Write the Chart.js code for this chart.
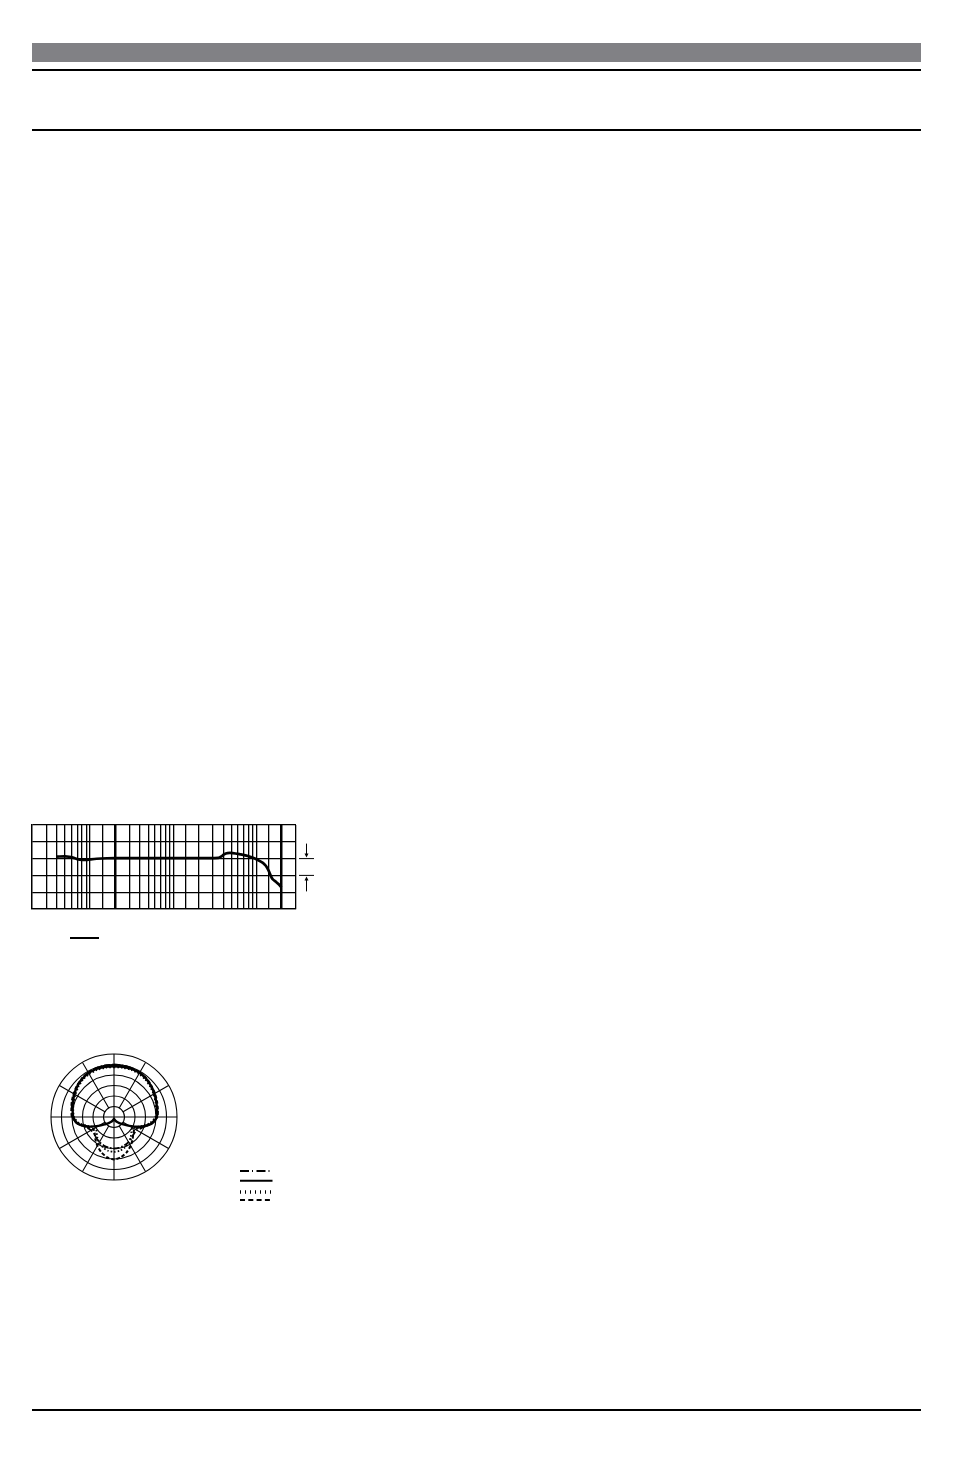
<!DOCTYPE html>
<html>
<head>
<meta charset="utf-8">
<script src="https://cdn.jsdelivr.net/npm/chart.js@4/dist/chart.umd.min.js"></script>
<style>
  body { margin: 0; background: #fff; }
  #page { position: relative; width: 954px; height: 1474px; overflow: hidden; }
  .bar { position: absolute; left: 32px; top: 43px; width: 889px; height: 19px; background: #818185; }
  .rule { position: absolute; left: 32px; width: 889px; background: #000; }
  #freqBox { position: absolute; left: 20px; top: 815px; width: 300px; height: 130px; }
  #polarBox { position: absolute; left: 0px; top: 1045px; width: 290px; height: 170px; }
</style>
</head>
<body>
<div id="page">
  <div class="bar"></div>
  <div class="rule" style="top:69px;height:1.5px"></div>
  <div class="rule" style="top:129px;height:1.5px"></div>
  <div class="rule" style="top:1409px;height:2px"></div>
  <div id="freqBox"><canvas id="freqChart"></canvas></div>
  <div id="polarBox"><canvas id="polarChart"></canvas></div>
</div>
<script>
// frequency response (Hz / dB)
var freq_hz = [20, 25, 28, 31, 35, 40, 45, 50, 60, 80, 100, 200, 500, 1000, 1750, 1900, 2050, 2250, 2600, 3250, 3800, 4300, 5200, 6000, 6500, 7000, 7500, 7850, 8600, 9300, 10000];
var freq_db = [1.2, 1.3, 1.1, 0.6, -0.3, -0.8, -0.8, -0.5, -0.1, 0.2, 0.3, 0.3, 0.3, 0.3, 0.4, 1.3, 2.6, 3.3, 3.3, 2.5, 1.8, 0.9, -0.8, -2.5, -4.3, -7.0, -10.5, -12.2, -13.8, -15.3, -17.2];
var freq_ticks = [10, 15, 20, 25, 30, 35, 40, 45, 50, 70, 100, 150, 200, 250, 300, 350, 400, 450, 500, 700, 1000, 1500, 2000, 2500, 3000, 3500, 4000, 4500, 5000, 7000, 10000, 15000];
var freq_bold = [100, 10000];

// polar pattern, every 10 degrees from the front, clockwise (dB)
var polar_angles = ['0', '10', '20', '30', '40', '50', '60', '70', '80', '90', '100', '110', '120', '130', '140', '150', '160', '170',
  '180', '190', '200', '210', '220', '230', '240', '250', '260', '270', '280', '290', '300', '310', '320', '330', '340', '350'];
var polar_dashdot = [-5.0, -5.1, -5.2, -5.5, -6.2, -7.0, -7.9, -8.6, -9.1, -9.8, -12.2, -15.4, -17.4, -17.6, -16.9, -16.2, -15.6, -15.2,
  -15.0, -15.2, -15.6, -16.2, -16.9, -17.6, -17.4, -15.8, -12.4, -10.2, -9.5, -8.9, -8.0, -7.1, -6.2, -5.5, -5.2, -5.1];
var polar_solid = [-5.8, -5.7, -5.6, -5.7, -6.2, -7.0, -7.8, -8.6, -9.2, -9.6, -11.8, -16.5, -21.5, -24.8, -26.4, -27.4, -28.2, -28.8,
  -29.2, -28.8, -28.2, -27.4, -26.4, -24.8, -21.5, -16.8, -12.3, -10.6, -10.0, -9.2, -8.2, -7.2, -6.4, -5.8, -5.6, -5.7];
var polar_dotted = [-6.3, -6.2, -6.1, -6.3, -6.8, -7.5, -8.3, -9.0, -9.7, -10.3, -12.8, -16.8, -19.8, -19.2, -17.6, -16.0, -14.6, -13.7,
  -13.4, -13.7, -14.6, -16.0, -17.6, -19.2, -19.8, -17.2, -13.2, -11.0, -10.3, -9.6, -8.8, -7.8, -6.9, -6.4, -6.2, -6.2];
var polar_dashed = [-5.4, -5.3, -5.3, -5.5, -6.0, -6.8, -7.5, -8.2, -8.8, -9.4, -12.0, -16.0, -18.6, -18.0, -16.2, -14.2, -12.2, -10.6,
  -9.8, -10.6, -12.2, -14.2, -16.2, -18.0, -18.6, -16.3, -12.5, -10.0, -9.4, -8.6, -7.8, -6.9, -6.1, -5.6, -5.4, -5.4];

var freq_points = [];
for (var i = 0; i < freq_hz.length; i++) {
    freq_points.push({x: freq_hz[i], y: freq_db[i]});
}

// 10 dB marker at the right side and the legend stroke under the chart
var freqExtras = {
    id: 'freqExtras',
    afterDraw: function(chart) {
        var ctx = chart.ctx;
        var area = chart.chartArea;
        var y0 = chart.scales.y.getPixelForValue(0);
        var y1 = chart.scales.y.getPixelForValue(-10);
        var ax = area.right + 10.5;
        ctx.save();
        ctx.strokeStyle = '#000';
        ctx.fillStyle = '#000';
        ctx.lineWidth = 1;
        ctx.beginPath();
        ctx.moveTo(area.right + 3, y0); ctx.lineTo(area.right + 18, y0);
        ctx.moveTo(area.right + 3, y1); ctx.lineTo(area.right + 18, y1);
        ctx.moveTo(ax, y0 - 15); ctx.lineTo(ax, y0 - 3);
        ctx.moveTo(ax, y1 + 16); ctx.lineTo(ax, y1 + 3);
        ctx.stroke();
        ctx.beginPath();
        ctx.moveTo(ax - 2, y0 - 5); ctx.lineTo(ax, y0 - 1); ctx.lineTo(ax + 2, y0 - 5);
        ctx.moveTo(ax - 2, y1 + 5); ctx.lineTo(ax, y1 + 1); ctx.lineTo(ax + 2, y1 + 5);
        ctx.fill();
        ctx.lineWidth = 2;
        ctx.beginPath();
        ctx.moveTo(area.left + 38, area.bottom + 29);
        ctx.lineTo(area.left + 67, area.bottom + 29);
        ctx.stroke();
        ctx.restore();
    }
};

new Chart(document.getElementById('freqChart'), {
    type: 'line',
    data: {
        datasets: [{
            data: freq_points,
            borderColor: '#000',
            borderWidth: 2.7,
            pointRadius: 0,
            tension: 0.3,
            fill: false
        }]
    },
    options: {
        responsive: true,
        maintainAspectRatio: false,
        animation: false,
        layout: { padding: { left: 12, right: 24, top: 10, bottom: 36 } },
        plugins: { legend: { display: false }, tooltip: { enabled: false } },
        scales: {
            x: {
                type: 'logarithmic',
                min: 10,
                max: 15000,
                afterBuildTicks: function(scale) {
                    scale.ticks = freq_ticks.map(function(v) { return {value: v}; });
                },
                ticks: { display: false },
                grid: {
                    color: '#000',
                    drawTicks: false,
                    lineWidth: function(c) {
                        return (c.tick && freq_bold.indexOf(c.tick.value) >= 0) ? 2.5 : 1.3;
                    }
                },
                border: { display: true, color: '#000', width: 1.3 }
            },
            y: {
                min: -30,
                max: 20,
                ticks: { display: false, stepSize: 10 },
                grid: { color: '#000', drawTicks: false, lineWidth: 1.3 },
                border: { display: true, color: '#000', width: 1.3 }
            }
        }
    },
    plugins: [freqExtras]
});

// spokes every 30 degrees, only the axes run into the centre
var polarSpokes = {
    id: 'polarSpokes',
    beforeDatasetsDraw: function(chart) {
        var r = chart.scales.r;
        var ctx = chart.ctx;
        ctx.save();
        ctx.strokeStyle = '#000';
        ctx.lineWidth = 1.1;
        ctx.beginPath();
        for (var i = 0; i < polar_angles.length; i += 3) {
            var inner = (i % 9 == 0) ? r.min : r.min + 5;
            var p0 = r.getPointPositionForValue(i, inner);
            var p1 = r.getPointPositionForValue(i, r.max);
            ctx.moveTo(p0.x, p0.y);
            ctx.lineTo(p1.x, p1.y);
        }
        ctx.stroke();
        ctx.restore();
    }
};

// legend strokes to the lower right of the diagram
var legendRows = [126, 135.7, 147, 155];
var legendWidths = [2, 2, 3.5, 2];
var polarLegend = {
    id: 'polarLegend',
    afterDraw: function(chart) {
        var ctx = chart.ctx;
        ctx.save();
        ctx.strokeStyle = '#000';
        chart.data.datasets.forEach(function(ds, k) {
            ctx.lineWidth = legendWidths[k];
            ctx.setLineDash(ds.legendDash || []);
            ctx.beginPath();
            ctx.moveTo(240, legendRows[k]);
            ctx.lineTo(272.5, legendRows[k]);
            ctx.stroke();
        });
        ctx.restore();
    }
};

function polarSet(values, dash, legendDash, width) {
    return {
        data: values,
        borderColor: '#000',
        backgroundColor: 'rgba(0,0,0,0)',
        borderWidth: width,
        borderDash: dash,
        legendDash: legendDash,
        pointRadius: 0,
        tension: 0.25,
        fill: false
    };
}

new Chart(document.getElementById('polarChart'), {
    type: 'radar',
    data: {
        labels: polar_angles,
        datasets: [
            polarSet(polar_dashdot, [6, 2, 1.5, 2], [9, 3, 1, 3.5], 1.8),
            polarSet(polar_solid, [], [], 2.4),
            polarSet(polar_dotted, [1.5, 2], [1, 4], 1.8),
            polarSet(polar_dashed, [3.5, 2], [5, 3.3], 2)
        ]
    },
    options: {
        responsive: true,
        maintainAspectRatio: false,
        animation: false,
        layout: { padding: { left: 50.5, right: 112.5, top: 8.5, bottom: 34.5 } },
        plugins: { legend: { display: false }, tooltip: { enabled: false } },
        scales: {
            r: {
                min: -30,
                max: 0,
                ticks: { display: false, stepSize: 5 },
                pointLabels: { display: false },
                angleLines: { display: false },
                grid: { circular: true, color: '#000', lineWidth: 1.1 }
            }
        }
    },
    plugins: [polarSpokes, polarLegend]
});
</script>
</body>
</html>
